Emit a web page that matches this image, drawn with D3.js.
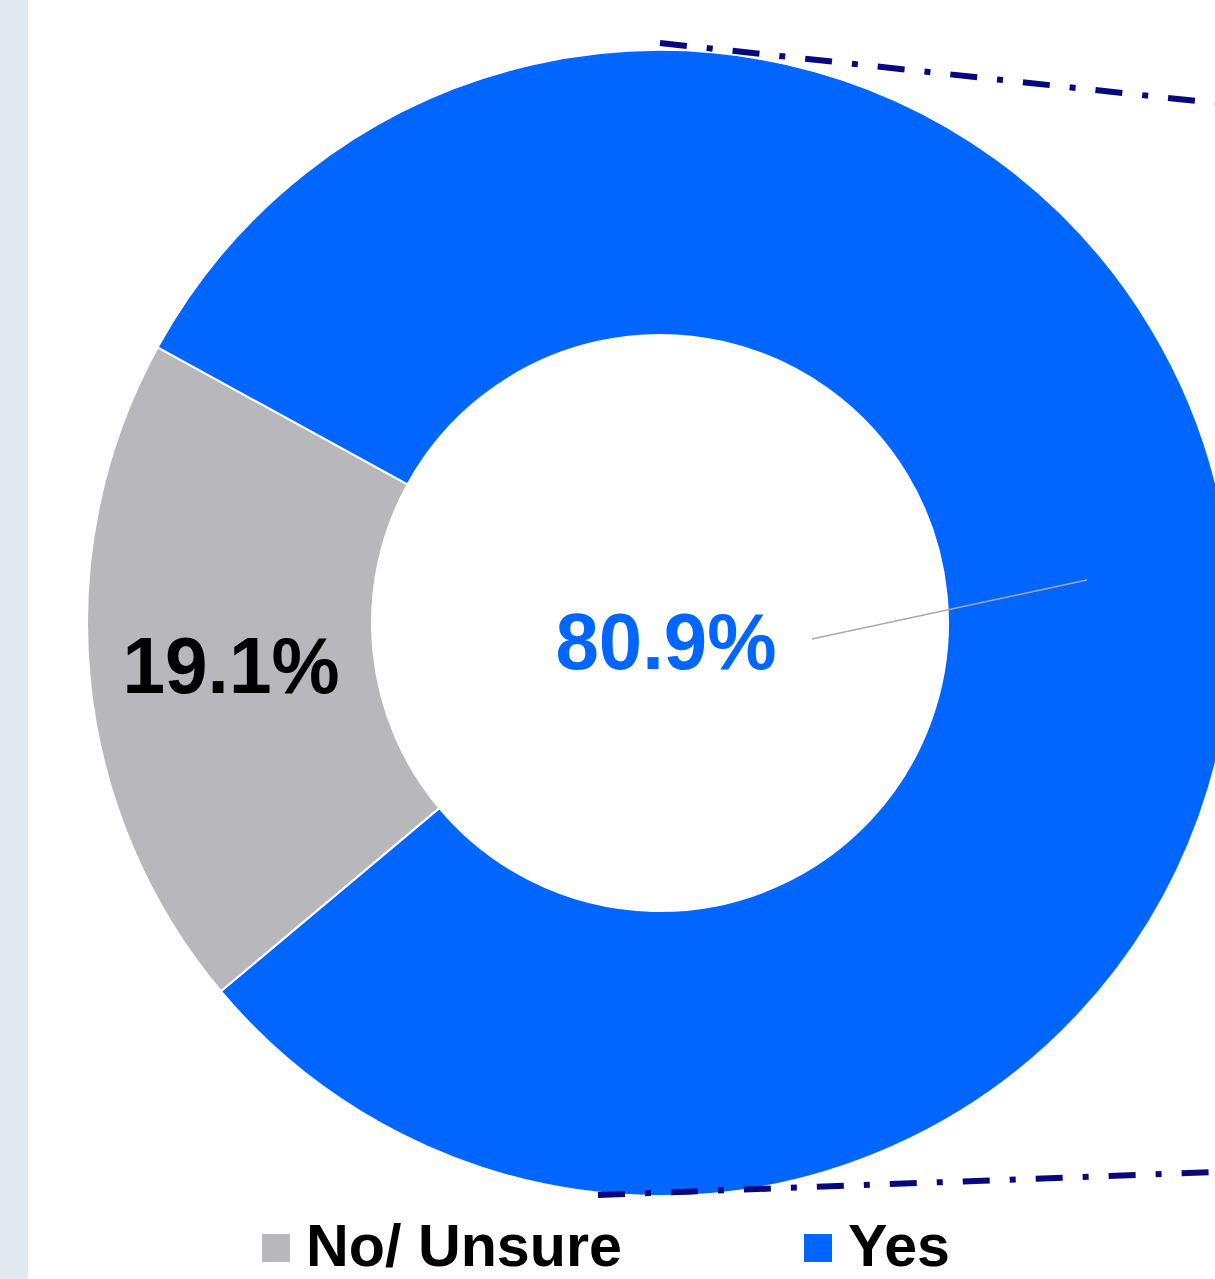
<!DOCTYPE html>
<html>
<head>
<meta charset="utf-8">
<script src="https://cdn.jsdelivr.net/npm/d3@7"></script>
<style>
  html, body { margin: 0; padding: 0; background: #ffffff; }
  svg { display: block; }
</style>
</head>
<body>
<svg id="chart" width="1215" height="1279"></svg>
<script>
// Survey answer shares (percent)
const categories = ["No/ Unsure", "Yes"];
const values = [19.1, 80.9];
const valueLabels = ["19.1%", "80.9%"];
const colors = ["#b8b7bc", "#0066ff"];

const W = 1215, H = 1279;
const svg = d3.select("#chart");

// side panel strip
svg.append("rect").attr("x", 0).attr("y", 0).attr("width", 28).attr("height", H).attr("fill", "#e1e8f0");

const cx = 660, cy = 623, rOuter = 573, rInner = 288;
const deg = Math.PI / 180;

const pie = d3.pie().sort(null).value(d => d)
  .startAngle(230 * deg).endAngle(230 * deg + 2 * Math.PI);
const arcs = pie(values);
const arc = d3.arc().innerRadius(rInner).outerRadius(rOuter);

const g = svg.append("g").attr("transform", `translate(${cx},${cy})`);
g.selectAll("path.slice").data(arcs).enter().append("path")
  .attr("class", "slice")
  .attr("d", arc)
  .attr("fill", (d, i) => colors[i])
  .attr("stroke", "#ffffff")
  .attr("stroke-width", 2);

// connector lines toward the breakout panel
const connectors = [
  [[660, 43], [1215, 103]],
  [[598, 1195], [1215, 1172]]
];
svg.selectAll("line.connector").data(connectors).enter().append("line")
  .attr("class", "connector")
  .attr("x1", d => d[0][0]).attr("y1", d => d[0][1])
  .attr("x2", d => d[1][0]).attr("y2", d => d[1][1])
  .attr("stroke", "#08087e")
  .attr("stroke-width", 6)
  .attr("stroke-dasharray", "27 20 6 20");

// leader line for the Yes label
svg.append("line")
  .attr("x1", 812).attr("y1", 639).attr("x2", 1087).attr("y2", 580)
  .attr("stroke", "#a8a8a8").attr("stroke-width", 1.5);

// value labels
const labelPos = [
  { x: 231, y: 693, w: 217, fill: "#000000" },
  { x: 666, y: 669, w: 221, fill: "#0066ff" }
];
svg.selectAll("text.value").data(arcs).enter().append("text")
  .attr("class", "value")
  .attr("x", (d, i) => labelPos[i].x)
  .attr("y", (d, i) => labelPos[i].y)
  .attr("text-anchor", "middle")
  .attr("font-family", "'Liberation Sans', Arial, sans-serif")
  .attr("font-weight", "bold")
  .attr("font-size", 80)
  .attr("textLength", (d, i) => labelPos[i].w)
  .attr("lengthAdjust", "spacingAndGlyphs")
  .attr("fill", (d, i) => labelPos[i].fill)
  .text((d, i) => valueLabels[i]);

// legend
const legendItems = [
  { sx: 262, tx: 306, tw: 316 },
  { sx: 804, tx: 848, tw: 102 }
];
const lg = svg.append("g");
lg.selectAll("rect").data(categories).enter().append("rect")
  .attr("x", (d, i) => legendItems[i].sx)
  .attr("y", 1234)
  .attr("width", 28).attr("height", 28)
  .attr("fill", (d, i) => colors[i]);
lg.selectAll("text").data(categories).enter().append("text")
  .attr("x", (d, i) => legendItems[i].tx)
  .attr("y", 1266)
  .attr("font-family", "'Liberation Sans', Arial, sans-serif")
  .attr("font-weight", "bold")
  .attr("font-size", 60)
  .attr("textLength", (d, i) => legendItems[i].tw)
  .attr("lengthAdjust", "spacingAndGlyphs")
  .attr("fill", "#000000")
  .text(d => d);
</script>
</body>
</html>
